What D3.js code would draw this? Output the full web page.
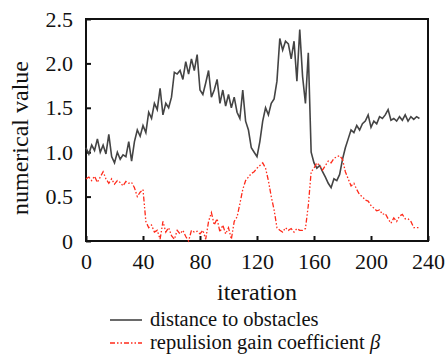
<!DOCTYPE html>
<html lang="en">
<head>
<meta charset="utf-8">
<script src="https://d3js.org/d3.v7.min.js"></script>
<style>
  body { margin: 0; background: #fff; }
  text { font-family: "Liberation Serif", "Times New Roman", serif; fill: #111; }
</style>
</head>
<body>
<div id="chart"></div>
<script>
// iterations sampled every 2 steps
const iterations = d3.range(0, 236, 2);

const distance = [
  1.05, 0.98, 1.08, 1.02, 1.15, 1.00, 1.08, 0.98, 1.20, 0.95,
  0.88, 1.00, 0.92, 0.97, 0.95, 1.12, 0.90, 1.12, 1.25, 1.18,
  1.30, 1.22, 1.45, 1.38, 1.55, 1.48, 1.72, 1.42, 1.55, 1.50,
  1.62, 1.90, 1.88, 1.92, 1.82, 2.02, 1.88, 2.05, 1.92, 2.10,
  1.70, 1.65, 1.78, 1.92, 1.62, 1.70, 1.82, 1.55, 1.70, 1.52,
  1.65, 1.50, 1.62, 1.45, 1.38, 1.70, 1.35, 1.25, 1.05, 1.00,
  0.95, 1.12, 1.35, 1.50, 1.42, 1.55, 1.60, 1.80, 2.28, 2.15,
  2.25, 2.22, 2.05, 2.25, 1.80, 2.38, 1.85, 1.55, 2.12, 1.00,
  0.88, 0.82, 0.85, 0.78, 0.72, 0.65, 0.60, 0.70, 0.68, 0.75,
  0.92, 1.05, 1.15, 1.25, 1.22, 1.30, 1.25, 1.32, 1.35, 1.42,
  1.28, 1.35, 1.32, 1.40, 1.38, 1.42, 1.48, 1.36, 1.38, 1.35,
  1.40, 1.36, 1.42, 1.35, 1.40, 1.37, 1.40, 1.38
];

const beta = [
  0.70, 0.72, 0.68, 0.73, 0.66, 0.72, 0.78, 0.70, 0.65, 0.70,
  0.64, 0.68, 0.66, 0.62, 0.67, 0.65, 0.66, 0.60, 0.50, 0.55,
  0.58, 0.22, 0.15, 0.18, 0.10, 0.12, 0.02, 0.22, 0.10, 0.15,
  0.06, 0.02, 0.12, 0.08, 0.12, 0.05, 0.00, 0.12, 0.10, 0.11,
  0.08, 0.12, 0.02, 0.22, 0.32, 0.18, 0.25, 0.10, 0.18, 0.08,
  0.15, 0.02, 0.22, 0.27, 0.42, 0.58, 0.68, 0.72, 0.76, 0.78,
  0.82, 0.85, 0.88, 0.82, 0.68, 0.50, 0.35, 0.15, 0.12, 0.10,
  0.15, 0.12, 0.14, 0.10, 0.14, 0.12, 0.12, 0.14, 0.40, 0.78,
  0.82, 0.88, 0.85, 0.80, 0.85, 0.90, 0.88, 0.93, 0.95, 0.96,
  0.92, 0.78, 0.70, 0.62, 0.65, 0.58, 0.52, 0.50, 0.46, 0.45,
  0.40, 0.37, 0.34, 0.35, 0.30, 0.31, 0.25, 0.20, 0.26, 0.22,
  0.28, 0.30, 0.25, 0.25, 0.22, 0.15, 0.15, 0.15
];

const xTicks = [0, 40, 80, 120, 160, 200, 240];
const yTicks = [0, 0.5, 1.0, 1.5, 2.0, 2.5];
const legendLabels = ["distance to obstacles", "repulision gain coefficient "];

const width = 445, height = 354;
const margin = { top: 19, right: 17, bottom: 113, left: 86 };
const innerW = width - margin.left - margin.right;
const innerH = height - margin.top - margin.bottom;

const svg = d3.select("#chart").append("svg")
  .attr("width", width)
  .attr("height", height);

const g = svg.append("g").attr("transform", `translate(${margin.left},${margin.top})`);

const x = d3.scaleLinear().domain([0, 240]).range([0, innerW]);
const y = d3.scaleLinear().domain([0, 2.5]).range([innerH, 0]);

// axes, ticks inward
const xAxis = g.append("g")
  .attr("transform", `translate(0,${innerH})`)
  .call(d3.axisBottom(x).tickValues(xTicks).tickSizeInner(-5).tickSizeOuter(0).tickPadding(12)
    .tickFormat(d3.format("d")));
const yAxis = g.append("g")
  .call(d3.axisLeft(y).tickValues(yTicks).tickSizeInner(-5).tickSizeOuter(0).tickPadding(13)
    .tickFormat(d => d === 0 ? "0" : d3.format(".1f")(d)));

[xAxis, yAxis].forEach(ax => {
  ax.select(".domain").remove();
  ax.selectAll(".tick line").attr("stroke", "#111").attr("stroke-width", 2);
  ax.selectAll(".tick text").attr("font-size", 22).attr("fill", "#111")
    .style("font-family", '"Liberation Serif", serif');
});

// frame
g.append("rect")
  .attr("width", innerW).attr("height", innerH)
  .attr("fill", "none").attr("stroke", "#111").attr("stroke-width", 2);

const line = (vals) => d3.line()
  .x((d, i) => x(iterations[i]))
  .y(d => y(d))(vals);

g.append("path")
  .attr("d", line(distance))
  .attr("fill", "none")
  .attr("stroke", "#444")
  .attr("stroke-width", 1.6);

g.append("path")
  .attr("d", line(beta))
  .attr("fill", "none")
  .attr("stroke", "#ff2a1a")
  .attr("stroke-width", 1.3)
  .attr("stroke-dasharray", "5,2,1.5,2,1.5,2");

// axis titles
svg.append("text")
  .attr("x", margin.left + innerW / 2)
  .attr("y", 300)
  .attr("text-anchor", "middle")
  .attr("font-size", 24)
  .text("iteration");

svg.append("text")
  .attr("transform", `translate(28,${margin.top + innerH / 2 + 8}) rotate(-90)`)
  .attr("text-anchor", "middle")
  .attr("font-size", 24)
  .text("numerical value");

// legend
const legend = svg.append("g");
const styles = [
  { stroke: "#444", dash: null, w: 1.6 },
  { stroke: "#ff2a1a", dash: "5,2,1.5,2,1.5,2", w: 1.3 }
];
legendLabels.forEach((lab, i) => {
  const yy = 320 + i * 23;
  legend.append("line")
    .attr("x1", 110).attr("x2", 142)
    .attr("y1", yy).attr("y2", yy)
    .attr("stroke", styles[i].stroke)
    .attr("stroke-width", styles[i].w)
    .attr("stroke-dasharray", styles[i].dash);
  const t = legend.append("text")
    .attr("x", 150).attr("y", yy + 6)
    .attr("font-size", 20.5)
    .text(lab);
  if (i === 1) t.append("tspan").attr("font-style", "italic").text("β");
});
</script>
</body>
</html>
